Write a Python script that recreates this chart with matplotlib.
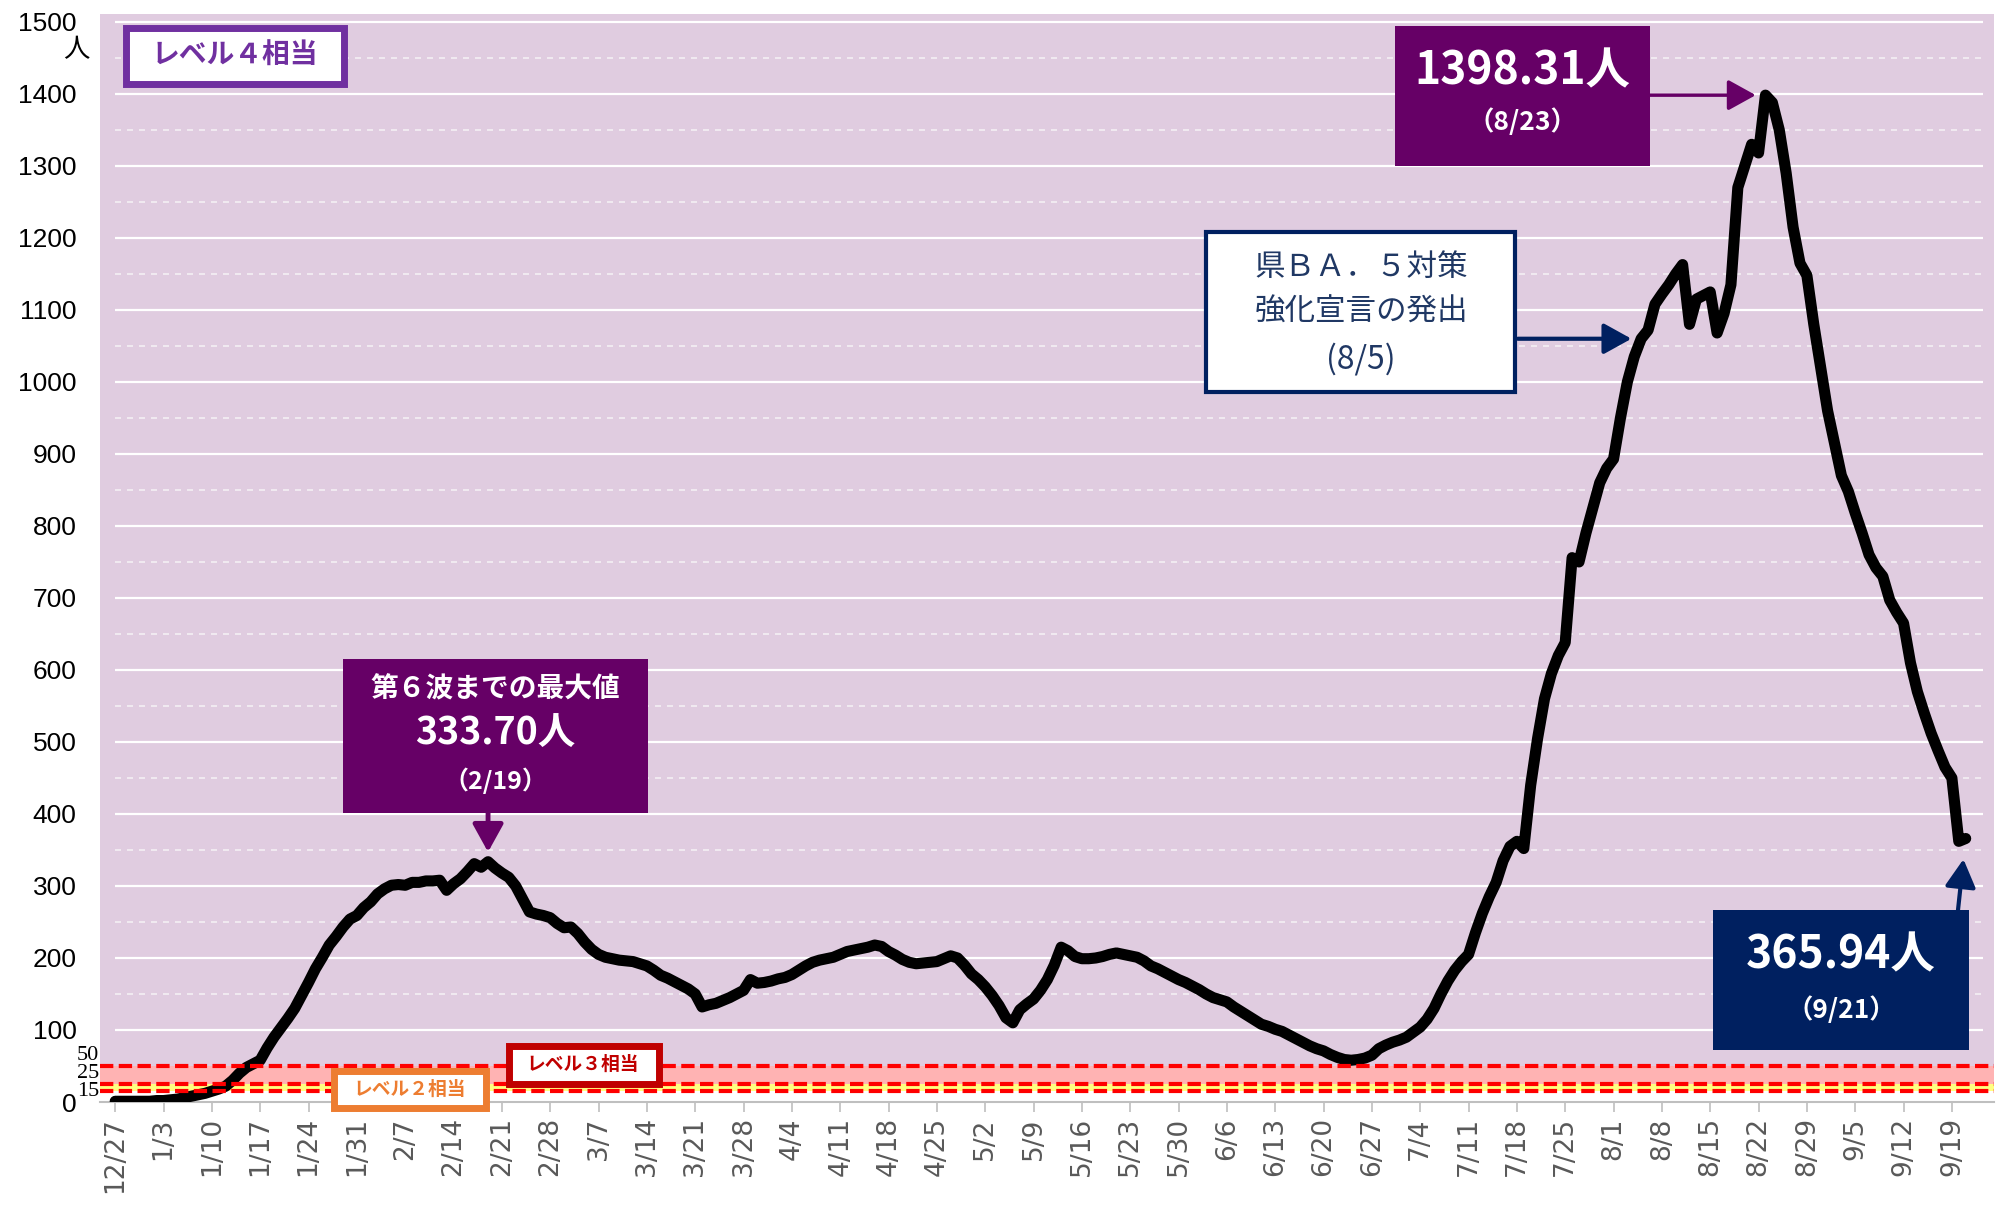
import numpy as np
import pandas as pd
import matplotlib
matplotlib.use("Agg")
import matplotlib.pyplot as plt
import matplotlib.transforms as mtransforms
from matplotlib.patches import Rectangle

W, H = 2011, 1207
JP = ['Noto Sans CJK JP', 'DejaVu Sans']

# 7-day average per 100k, daily from 2021-12-27 to 2022-09-21
start = "2021-12-27"
values = [
    1, 1, 1, 1, 1, 1, 2,
    2, 3, 4, 6, 8, 10, 12,
    15, 18, 22, 30, 40, 48, 53,
    58, 75, 90, 103, 116, 130, 148,
    166, 185, 201, 218, 230, 243, 254,
    259, 270, 278, 289, 296, 301, 302,
    301, 305, 305, 307, 307, 308, 294,
    303, 310, 320, 331, 326, 333.70, 325,
    318, 312, 300, 282, 264, 261, 259,
    256, 248, 242, 243, 234, 222, 212,
    205, 201, 199, 197, 196, 195, 192,
    189, 183, 176, 172, 167, 162, 157,
    150, 132, 135, 137, 141, 145, 150,
    155, 170, 165, 166, 168, 171, 173,
    177, 183, 189, 194, 197, 199, 201,
    205, 209, 211, 213, 215, 218, 216,
    209, 204, 198, 194, 192, 193, 194,
    195, 199, 203, 200, 190, 178, 170,
    160, 148, 134, 117, 110, 128, 136,
    143, 155, 170, 190, 215, 210, 202,
    199, 199, 200, 202, 205, 207, 205,
    203, 201, 196, 189, 185, 180, 175,
    170, 166, 161, 156, 150, 145, 142,
    139, 132, 126, 120, 114, 108, 105,
    101, 98, 93, 88, 83, 78, 74,
    71, 66, 62, 59, 58, 59, 61,
    65, 74, 79, 83, 86, 90, 97,
    104, 115, 130, 150, 168, 183, 195,
    205, 235, 262, 285, 305, 335, 355,
    362, 352, 440, 505, 560, 595, 620,
    638, 756, 750, 790, 825, 860, 880,
    893, 950, 1000, 1035, 1060, 1072, 1108,
    1122, 1135, 1150, 1163, 1080, 1115, 1120,
    1125, 1068, 1095, 1135, 1270, 1300, 1330,
    1318, 1398.31, 1388, 1350, 1290, 1215, 1165,
    1148, 1080, 1020, 960, 915, 870, 848,
    818, 790, 760, 742, 730, 697, 680,
    665, 610, 570, 540, 512, 488, 465,
    450, 362, 365.94,
]
dates = pd.date_range(start, periods=len(values), freq="D")
x = np.arange(len(values))

peak6_idx = 54     # 2/19
peak7_idx = 239    # 8/23
ba5_idx = 221      # 8/5
last_idx = len(values) - 1

y_ticks = list(range(0, 1600, 100))
level_lines = [15, 25, 50]
small_labels = ["50", "25", "15"]
small_label_y = [64, 39, 14]

fig = plt.figure(figsize=(W / 100, H / 100), dpi=100)
ax = fig.add_axes([100 / W, 1 - 1102 / H, (1994 - 100) / W, (1102 - 14) / H])
ax.set_facecolor('#E0CCE0')
ax.set_xlim(-2.2, 272.1)
ax.set_ylim(0, 1511)

# level bands
ax.axhspan(0, level_lines[0], color='white', lw=0, zorder=0.5)
ax.axhspan(level_lines[0], level_lines[1], color='#FFFF80', lw=0, zorder=0.5)
ax.axhspan(level_lines[1], level_lines[2], color='#FFB3B3', lw=0, zorder=0.5)

# grid
grid_end = 270.5
for v in range(100, 1600, 100):
    ax.hlines(v, 0, grid_end, color='white', lw=1.6, zorder=1)
for v in range(150, 1500, 100):
    ax.hlines(v, 0, grid_end, color='#F4F0F4', lw=1.2, linestyles=(0, (3.6, 3.6)), zorder=1)

ax.plot(x, values, color='black', lw=8, solid_joinstyle='round',
        solid_capstyle='round', zorder=4)

for v in level_lines:
    ax.axhline(v, color='#FF0000', lw=3, dashes=(3.2, 1.3), zorder=5)

for s in ['top', 'right', 'left']:
    ax.spines[s].set_visible(False)
ax.spines['bottom'].set_color('#BFBFBF')
ax.spines['bottom'].set_linewidth(1.5)

ax.set_xticks(x[::7])
ax.set_xticklabels([f"{d.month}/{d.day}" for d in dates[::7]], rotation=90,
                   fontsize=19, color='#595959', family='DejaVu Sans')
ax.tick_params(axis='x', length=7, width=1.2, color='#BFBFBF', pad=4)

ax.set_yticks(y_ticks)
ax.set_yticklabels([str(v) for v in y_ticks], fontsize=19, family='Liberation Sans')
ax.tick_params(axis='y', length=0, pad=17)

trans = mtransforms.blended_transform_factory(ax.transAxes, ax.transData)
for lbl, yv in zip(small_labels, small_label_y):
    ax.text(-0.0005, yv, lbl, transform=trans, ha='right', va='center',
            fontsize=16, family='Liberation Serif')

fig.text(76 / W, 1 - 50 / H, "人", ha='center', va='center', fontsize=19, family=JP)


def box(x0, y0, x1, y1, fc, ec=None, lw=0):
    r = Rectangle((x0 / W, 1 - y1 / H), (x1 - x0) / W, (y1 - y0) / H,
                  transform=fig.transFigure, facecolor=fc,
                  edgecolor=ec if ec else fc, linewidth=lw, zorder=10)
    fig.add_artist(r)


def ftext(xp, yp, s, **kw):
    kw.setdefault('family', JP)
    fig.text(xp / W, 1 - yp / H, s, ha='center', va='center', zorder=11, **kw)


def md(i):
    return f"（{dates[i].month}/{dates[i].day}）"


purple = '#660066'
navy = '#002060'

# level boxes
box(126.5, 28.5, 343.5, 83.5, 'white', '#7030A0', 5)
ftext(235, 56, "レベル４相当", fontsize=20, weight='bold', color='#7030A0')
box(508.5, 1045.5, 658.5, 1083.5, 'white', '#C00000', 5)
ftext(583, 1064, "レベル３相当", fontsize=13.5, weight='bold', color='#C00000')
box(333.5, 1070.5, 485.5, 1107.5, 'white', '#ED7D31', 5)
ftext(410, 1089, "レベル２相当", fontsize=13.5, weight='bold', color='#ED7D31')

# 6th wave max
box(343, 659, 648, 813, purple)
ftext(495, 689, "第６波までの最大値", fontsize=20, weight='bold', color='white')
ftext(495, 733, f"{values[peak6_idx]:.2f}人", fontsize=27, weight='bold', color='white')
ftext(495, 781, md(peak6_idx), fontsize=18, weight='bold', color='white')
head = '-|>,head_length=0.85,head_width=0.47'
ax.annotate('', xy=(peak6_idx, values[peak6_idx]), xycoords='data',
            xytext=(peak6_idx, 1 - 813 / H), textcoords=('data', 'figure fraction'),
            arrowprops=dict(arrowstyle=head, mutation_scale=20, color=purple,
                            lw=3.5, shrinkA=0, shrinkB=7), zorder=12)

# 7th wave peak
box(1395, 26, 1650, 166, purple)
ftext(1522, 71, f"{values[peak7_idx]:.2f}人", fontsize=32, weight='bold', color='white')
ftext(1522, 122, md(peak7_idx), fontsize=19, weight='bold', color='white')
ax.annotate('', xy=(peak7_idx, values[peak7_idx]), xycoords='data',
            xytext=(1650 / W, values[peak7_idx]), textcoords=('figure fraction', 'data'),
            arrowprops=dict(arrowstyle=head, mutation_scale=20, color=purple,
                            lw=2.5, shrinkA=0, shrinkB=7), zorder=12)

# BA.5 declaration
box(1206, 232, 1515, 392, 'white', navy, 3)
ftext(1361, 267, "県ＢＡ．５対策", fontsize=22, color='#203864')
ftext(1361, 312, "強化宣言の発出", fontsize=22, color='#203864')
ftext(1361, 359, f"({dates[ba5_idx].month}/{dates[ba5_idx].day})", fontsize=23, color='#203864')
ax.annotate('', xy=(ba5_idx, values[ba5_idx]), xycoords='data',
            xytext=(1515 / W, values[ba5_idx]), textcoords=('figure fraction', 'data'),
            arrowprops=dict(arrowstyle=head, mutation_scale=20, color=navy,
                            lw=3, shrinkA=2, shrinkB=7), zorder=12)

# latest value
box(1713, 910, 1969, 1050, navy)
ftext(1841, 955, f"{values[last_idx]:.2f}人", fontsize=32, weight='bold', color='white')
ftext(1841, 1010, md(last_idx), fontsize=19, weight='bold', color='white')
ax.annotate('', xy=(last_idx, values[last_idx]), xycoords='data',
            xytext=(1958 / W, 1 - 910 / H), textcoords='figure fraction',
            arrowprops=dict(arrowstyle=head, mutation_scale=20, color=navy,
                            lw=3, shrinkA=0, shrinkB=15), zorder=12)

fig.savefig('out.png', dpi=100, facecolor='white')
